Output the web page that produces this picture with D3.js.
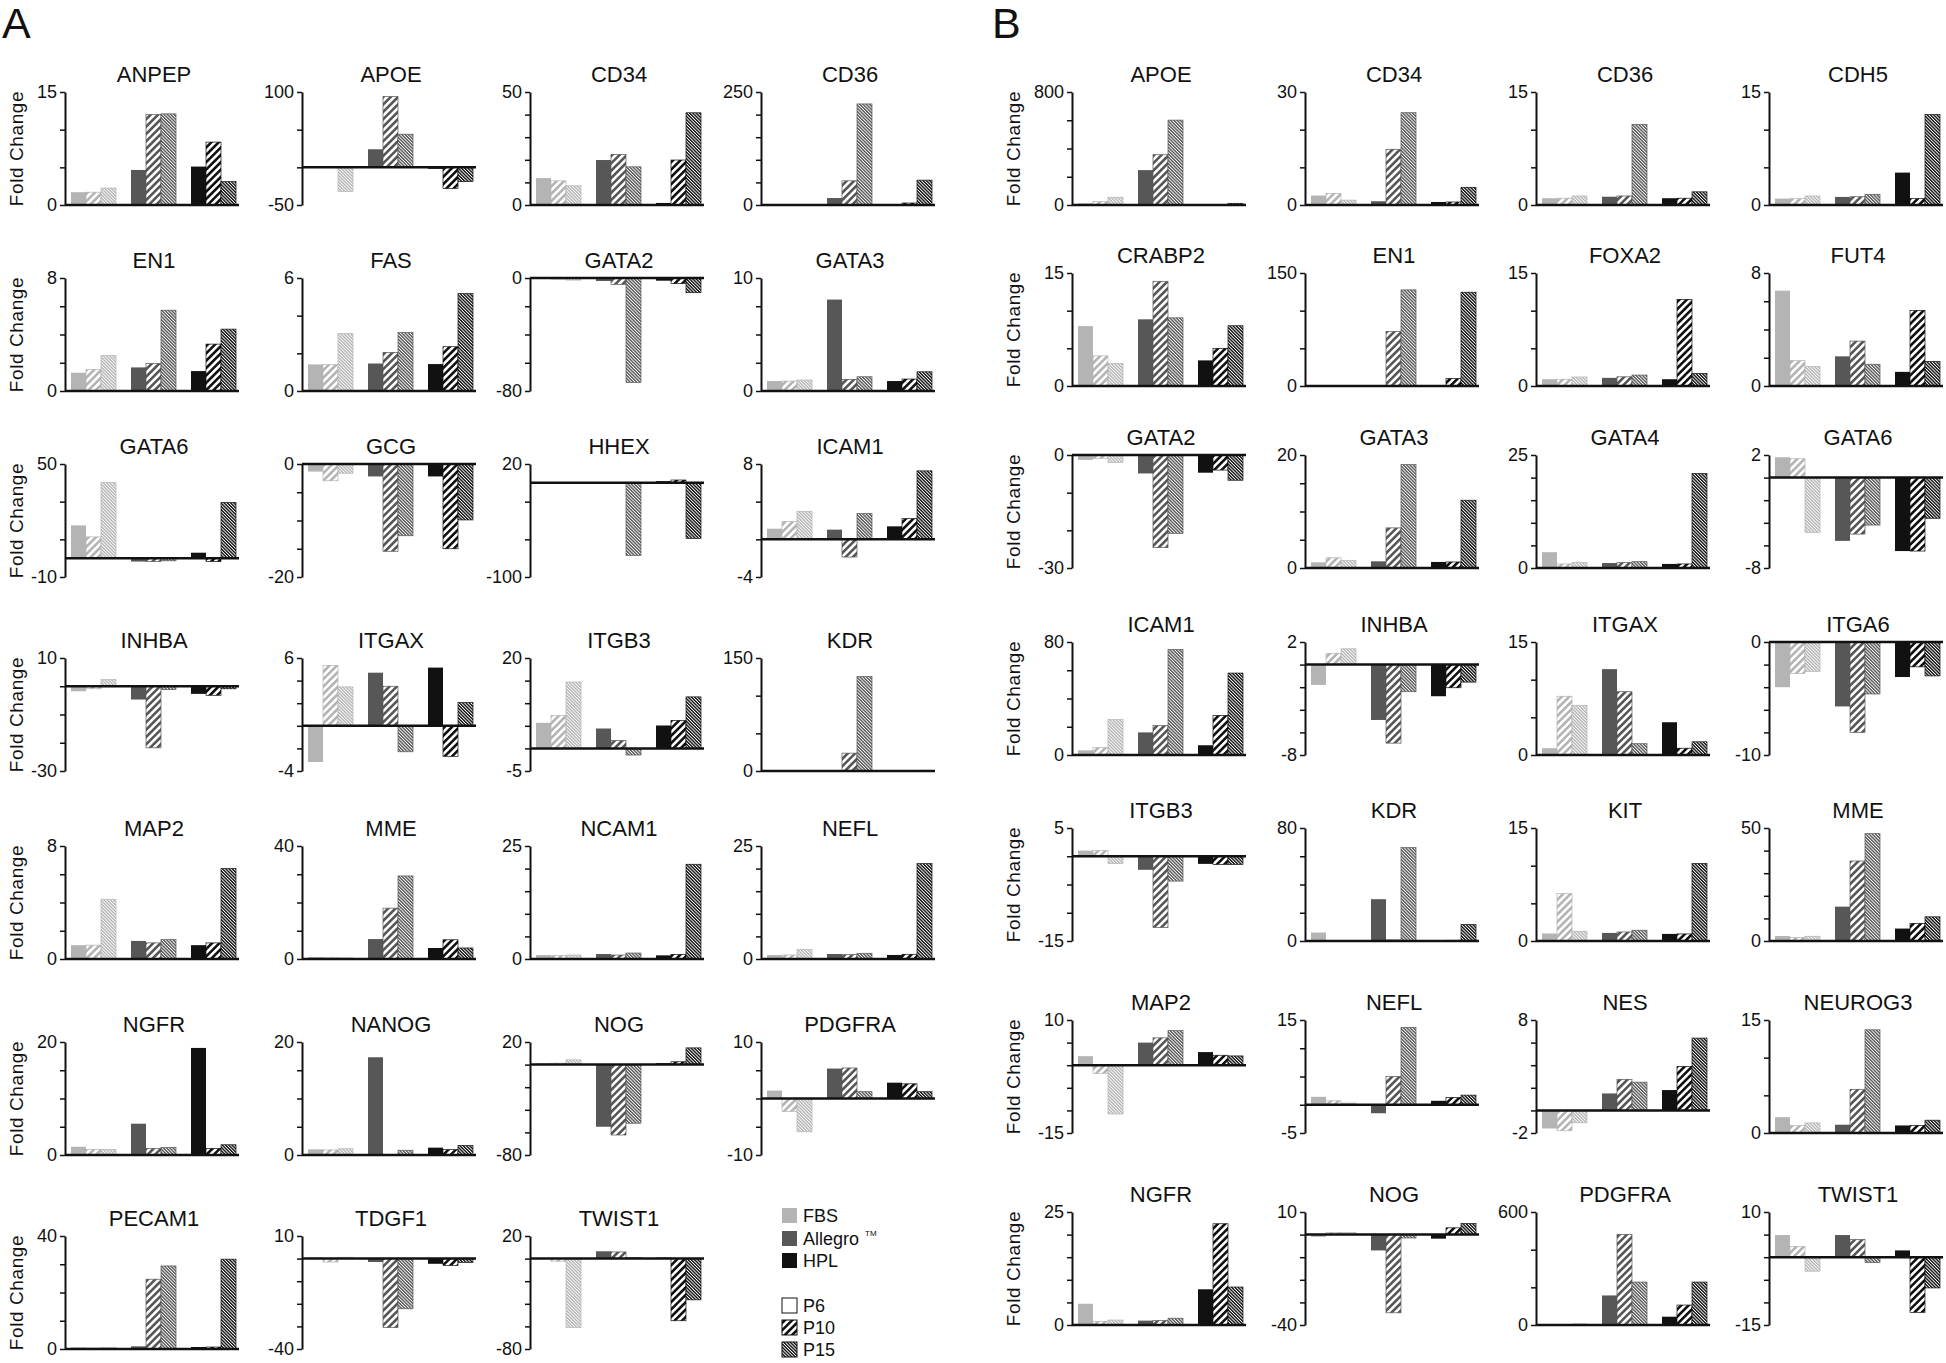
<!DOCTYPE html>
<html>
<head>
<meta charset="utf-8">
<script src="https://d3js.org/d3.v7.min.js"></script>
<style>
	body { margin: 0; background: white; }
	text { font-family: "Liberation Sans", Arial, sans-serif; fill: #111; }
</style>
</head>
<body>
<svg id="chart" width="1946" height="1363"></svg>
<script>

// media and passages, in the order the nine bars of every plot are drawn
var media = ["FBS", "Allegro", "HPL"];
var passages = ["P6", "P10", "P15"];

// panel A
var genesA = ["ANPEP", "APOE", "CD34", "CD36", "EN1", "FAS", "GATA2", "GATA3",
			"GATA6", "GCG", "HHEX", "ICAM1", "INHBA", "ITGAX", "ITGB3", "KDR",
			"MAP2", "MME", "NCAM1", "NEFL", "NGFR", "NANOG", "NOG", "PDGFRA",
			"PECAM1", "TDGF1", "TWIST1"];

var valuesA = [
	[1.7, 1.7, 2.25, 4.65, 12.0, 12.1, 5.1, 8.35, 3.1],
	[1, 1, -32, 24, 94, 44, -2, -28, -19],
	[11.9, 10.7, 8.5, 19.9, 22.4, 16.9, 0.9, 19.9, 40.8],
	[0.5, 0.5, 1.5, 15.4, 53.5, 223.6, 0.5, 4.4, 55],
	[1.29, 1.53, 2.52, 1.67, 1.95, 5.72, 1.41, 3.32, 4.38],
	[1.41, 1.41, 3.05, 1.46, 2.05, 3.1, 1.43, 2.35, 5.17],
	[-0.5, -0.8, -1.5, -2.1, -4.5, -73.9, -1.9, -4, -10.4],
	[0.88, 0.88, 0.97, 8.09, 1.03, 1.26, 0.88, 1.06, 1.7],
	[17.4, 11.3, 40.1, -1.8, -1.8, -1.4, 2.9, -1.8, 29.6],
	[-1.34, -2.97, -1.63, -2.2, -15.45, -12.7, -2.2, -15.0, -9.9],
	[-0.3, -0.3, -0.3, -0.5, -0.5, -77, 1.8, 3, -59],
	[1.13, 1.9, 2.98, 1.03, -1.88, 2.73, 1.38, 2.2, 7.27],
	[-1.76, -0.9, 2.35, -4.7, -21.8, -1.2, -2.7, -3.2, -0.9],
	[-3.2, 5.35, 3.44, 4.7, 3.5, -2.3, 5.15, -2.7, 2.06],
	[5.66, 7.3, 14.7, 4.4, 1.76, -1.47, 5.07, 6.2, 11.4],
	[0.3, 0.3, 0.3, 1.3, 23.7, 125.4, 0.3, 0.3, 0.9],
	[0.98, 0.98, 4.23, 1.28, 1.14, 1.37, 0.98, 1.14, 6.4],
	[0.7, 0.6, 0.4, 7.06, 18.0, 29.4, 3.9, 6.8, 3.9],
	[0.88, 0.74, 0.88, 1.1, 0.88, 1.32, 0.81, 1.03, 20.96],
	[0.89, 0.89, 2.08, 1.11, 0.96, 1.26, 0.89, 1.04, 21.1],
	[1.46, 0.99, 0.99, 5.54, 1.17, 1.34, 18.95, 1.17, 1.81],
	[1.0, 0.9, 1.1, 17.3, 0.1, 0.84, 1.3, 0.95, 1.68],
	[1.3, 1.3, 4.2, -55, -62.3, -51.9, 1.3, 2.5, 14.8],
	[1.4, -2.3, -5.9, 5.3, 5.4, 1.2, 2.8, 2.6, 1.2],
	[0.6, 0.35, 0.5, 0.94, 24.7, 29.4, 0.7, 0.7, 31.8],
	[0.5, -1.5, 0.6, -1.5, -30.5, -22.2, -2.3, -3, -1.7],
	[0.3, -2.3, -61, 6.5, 5.9, 0.9, 0.9, -55, -36.5]
];

var rangesA = [[0, 15], [-50, 100], [0, 50], [0, 250], [0, 8], [0, 6], [-80, 0],
			[0, 10], [-10, 50], [-20, 0], [-100, 20], [-4, 8], [-30, 10], [-4, 6],
			[-5, 20], [0, 150], [0, 8], [0, 40], [0, 25], [0, 25], [0, 20], [0, 20],
			[-80, 20], [-10, 10], [0, 40], [-40, 10], [-80, 20]];

var stepsA = [5, 50, 10, 50, 2, 2, 20, 2.5, 20, 5, 40, 4, 10, 2, 5, 50, 2, 10, 5,
			5, 5, 5, 20, 5, 10, 10, 20];

// panel B
var genesB = ["APOE", "CD34", "CD36", "CDH5", "CRABP2", "EN1", "FOXA2", "FUT4",
			"GATA2", "GATA3", "GATA4", "GATA6", "ICAM1", "INHBA", "ITGAX", "ITGA6",
			"ITGB3", "KDR", "KIT", "MME", "MAP2", "NEFL", "NES", "NEUROG3",
			"NGFR", "NOG", "PDGFRA", "TWIST1"];

var valuesB = [
	[12, 24, 55, 247, 356, 601, 1, 1, 12],
	[2.5, 3.1, 1.3, 1.0, 14.8, 24.5, 0.8, 0.8, 4.7],
	[0.9, 0.9, 1.2, 1.1, 1.2, 10.7, 0.9, 0.9, 1.75],
	[0.85, 0.85, 1.2, 1.07, 1.1, 1.42, 4.3, 0.85, 12.0],
	[7.95, 4.0, 3.0, 8.85, 13.9, 9.05, 3.4, 5.0, 8.0],
	[0.3, 0.3, 0.3, 0.3, 72.5, 127.6, 0.3, 9.9, 124.5],
	[0.9, 0.9, 1.2, 1.08, 1.22, 1.45, 0.9, 11.5, 1.67],
	[6.75, 1.8, 1.37, 2.1, 3.18, 1.54, 1.0, 5.35, 1.73],
	[-1.3, -0.9, -2.0, -4.9, -24.6, -20.8, -4.7, -4.0, -6.7],
	[1.0, 1.8, 1.36, 1.18, 7.1, 18.3, 1.07, 1.07, 12.0],
	[3.5, 0.9, 1.26, 1.1, 1.2, 1.4, 0.9, 0.9, 20.9],
	[1.8, 1.67, -4.85, -5.6, -5.0, -4.2, -6.5, -6.5, -3.6],
	[3.3, 5.3, 25.1, 16.0, 20.8, 74.7, 6.9, 28.0, 58],
	[-1.8, 1.0, 1.4, -4.9, -6.95, -2.4, -2.8, -2.05, -1.55],
	[0.9, 7.8, 6.6, 11.4, 8.4, 1.5, 4.35, 0.9, 1.75],
	[-4.0, -2.8, -2.6, -5.7, -8.0, -4.6, -3.1, -2.2, -3.0],
	[1.0, 1.0, -1.3, -2.4, -12.6, -4.4, -1.35, -1.45, -1.45],
	[6.0, 0.5, 0.5, 29.6, 0.8, 66.1, 0.5, 0.5, 11.7],
	[1.0, 6.3, 1.3, 1.07, 1.2, 1.43, 0.94, 0.94, 10.3],
	[2.2, 1.5, 2.1, 15.2, 35.4, 47.5, 5.5, 7.8, 10.7],
	[2.0, -1.8, -10.8, 5.0, 6.05, 7.65, 2.9, 2.2, 2.05],
	[1.4, 0.7, 0.3, -1.5, 5.0, 13.7, 0.7, 1.3, 1.7],
	[-1.6, -1.8, -1.1, 1.5, 2.75, 2.5, 1.8, 3.9, 6.4],
	[2.1, 1.0, 1.34, 1.1, 5.8, 13.7, 1.0, 1.0, 1.7],
	[4.7, 0.82, 1.1, 0.97, 0.97, 1.5, 7.9, 22.4, 8.4],
	[-1.0, 1.0, 1.0, -7.0, -34.6, -1.5, -1.8, 3.0, 4.9],
	[3, 3, 6, 157, 481, 228, 44, 106, 228],
	[4.9, 2.4, -3.1, 4.9, 3.9, -1.2, 1.5, -12.2, -6.8]
];

var rangesB = [[0, 800], [0, 30], [0, 15], [0, 15], [0, 15], [0, 150], [0, 15],
			[0, 8], [-30, 0], [0, 20], [0, 25], [-8, 2], [0, 80], [-8, 2], [0, 15],
			[-10, 0], [-15, 5], [0, 80], [0, 15], [0, 50], [-15, 10], [-5, 15],
			[-2, 8], [0, 15], [0, 25], [-40, 10], [0, 600], [-15, 10]];

var stepsB = [200, 10, 5, 5, 5, 50, 5, 2, 10, 5, 5, 2, 20, 2, 5, 2, 5, 20, 5, 10,
			5, 5, 2, 5, 5, 10, 200, 5];


// layout
var plotWidth = 174;
var plotHeight = 113;

var colsA = [65, 302, 530, 761];
var topsA = [92, 278, 464, 658, 846, 1042, 1236];
var colsB = [1072, 1305, 1536, 1769];
var topsB = [92, 273, 455, 642, 828, 1020, 1212];

var colours = ["#b4b4b4", "#575757", "#111111"];

var svg = d3.select("#chart");
var defs = svg.append("defs");

// 11 slots: three bars, a gap, three bars, a gap, three bars
var slot = d3.scaleBand()
				.domain(d3.range(11))
				.range([6, 6 + 11 * 15]);


function makePatterns(id, colour) {

	var coarse = defs.append("pattern")
					.attr("id", "p10-" + id)
					.attr("patternUnits", "userSpaceOnUse")
					.attr("width", 5.2)
					.attr("height", 5.2)
					.attr("patternTransform", "rotate(45)");
	coarse.append("rect").attr("width", 5.2).attr("height", 5.2).attr("fill", "white");
	coarse.append("rect").attr("width", 2.6).attr("height", 5.2).attr("fill", colour);

	var fine = defs.append("pattern")
					.attr("id", "p15-" + id)
					.attr("patternUnits", "userSpaceOnUse")
					.attr("width", 2.3)
					.attr("height", 2.3)
					.attr("patternTransform", "rotate(-45)");
	fine.append("rect").attr("width", 2.3).attr("height", 2.3).attr("fill", "white");
	fine.append("rect").attr("width", 1.4).attr("height", 2.3).attr("fill", colour);
}

media.forEach(function(m, i) { makePatterns(m, colours[i]); });
makePatterns("legend", "#111111");


function barFill(i) {
	var m = Math.floor(i / 3);
	var p = i % 3;
	if (p == 0) return colours[m];
	return "url(#p" + (p == 1 ? "10" : "15") + "-" + media[m] + ")";
}


function drawPlot(name, values, range, step, x0, top) {

	var y = d3.scaleLinear()
				.domain(range)
				.range([top + plotHeight, top]);

	var g = svg.append("g")
				.attr("transform", "translate(" + x0 + ",0)");

	g.append("text")
		.attr("x", plotWidth / 2 + 2)
		.attr("y", top - 10)
		.attr("text-anchor", "middle")
		.style("font-size", "22px")
		.text(name);

	g.selectAll(".bar")
		.data(values)
		.enter().append("rect")
		.attr("class", "bar")
		.attr("x", function(d, i) { return slot(i + Math.floor(i / 3)); })
		.attr("width", slot.bandwidth())
		.attr("y", function(d) { return y(Math.max(0, d)); })
		.attr("height", function(d) { return Math.abs(y(d) - y(0)); })
		.attr("fill", function(d, i) { return barFill(i); })
		.attr("stroke", function(d, i) { return i % 3 == 0 ? "none" : colours[Math.floor(i / 3)]; })
		.attr("stroke-width", 0.7);

	var ticks = d3.range(range[0], range[1] + step / 2, step);

	var axis = g.append("g")
				.call(d3.axisLeft(y)
						.tickValues(ticks)
						.tickSize(5)
						.tickSizeOuter(0)
						.tickPadding(3)
						.tickFormat(function(d) {
							return (d == range[0] || d == range[1]) ? String(d) : ""; }));

	axis.select(".domain").attr("stroke", "#111").attr("stroke-width", 2);
	axis.selectAll(".tick line").attr("stroke", "#111").attr("stroke-width", 1.5);
	axis.selectAll(".tick text")
		.style("font-size", "18px")
		.style("font-family", "'Liberation Sans', Arial, sans-serif")
		.attr("fill", "#111");

	// baseline at zero
	g.append("line")
		.attr("x1", 0)
		.attr("x2", plotWidth)
		.attr("y1", y(0))
		.attr("y2", y(0))
		.attr("stroke", "#111")
		.attr("stroke-width", 2.5);
}


function drawPanel(genes, values, ranges, steps, cols, tops, labelX) {

	genes.forEach(function(name, i) {
		drawPlot(name, values[i], ranges[i], steps[i], cols[i % 4], tops[Math.floor(i / 4)]);
	});

	tops.forEach(function(top) {
		svg.append("text")
			.attr("transform", "translate(" + labelX + "," + (top + plotHeight / 2) + ") rotate(-90)")
			.attr("text-anchor", "middle")
			.attr("dy", "0.35em")
			.style("font-size", "19px")
			.style("letter-spacing", "0.6px")
			.text("Fold Change");
	});
}


drawPanel(genesA, valuesA, rangesA, stepsA, colsA, topsA, 16);
drawPanel(genesB, valuesB, rangesB, stepsB, colsB, topsB, 1013);

svg.append("text").attr("x", 2).attr("y", 38).style("font-size", "43px").text("A");
svg.append("text").attr("x", 992).attr("y", 38).style("font-size", "43px").text("B");


// legend
var legendRows = [
	{ label: "FBS", fill: colours[0], y: 1208 },
	{ label: "Allegro", fill: colours[1], y: 1231 },
	{ label: "HPL", fill: colours[2], y: 1253 },
	{ label: "P6", fill: "white", y: 1298 },
	{ label: "P10", fill: "url(#p10-legend)", y: 1320 },
	{ label: "P15", fill: "url(#p15-legend)", y: 1342 }
];

var legend = svg.append("g").attr("class", "legend");

legend.selectAll("rect")
	.data(legendRows)
	.enter().append("rect")
	.attr("x", 782)
	.attr("y", function(d) { return d.y; })
	.attr("width", 15)
	.attr("height", 15)
	.attr("fill", function(d) { return d.fill; })
	.attr("stroke", function(d, i) { return i < 3 ? "none" : "#111"; })
	.attr("stroke-width", 1);

var labels = legend.selectAll("text")
	.data(legendRows)
	.enter().append("text")
	.attr("x", 803)
	.attr("y", function(d) { return d.y + 14; })
	.style("font-size", "18px")
	.text(function(d) { return d.label; });

labels.filter(function(d) { return d.label == "Allegro"; })
	.append("tspan")
	.attr("dx", 6)
	.attr("dy", -9)
	.style("font-size", "8px")
	.text("TM");

</script>
</body>
</html>
